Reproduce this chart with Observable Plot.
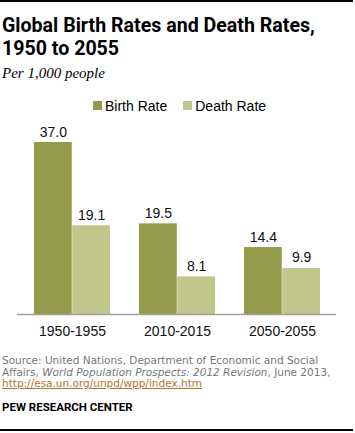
<!DOCTYPE html>
<html>
<head>
<meta charset="utf-8">
<script src="https://cdn.jsdelivr.net/npm/d3@7"></script>
<script src="https://cdn.jsdelivr.net/npm/@observablehq/plot@0.6"></script>
<style>
  html, body { margin: 0; padding: 0; background: #fff; }
  #wrap { position: relative; width: 355px; height: 433px; overflow: hidden; }
  .rule { position: absolute; left: 0; width: 353px; height: 2px; background: #000; }
  #title { position: absolute; left: 2px; top: 14px; font-family: Roboto, sans-serif; font-weight: 700; font-size: 19.6px; line-height: 23px; color: #000; white-space: nowrap; }
  #subtitle { position: absolute; left: 2px; top: 65px; font-family: "Liberation Serif", serif; font-style: italic; font-size: 15px; line-height: 16px; color: #000; }
  #legend { position: absolute; left: 93px; top: 98px; height: 15px; display: flex; align-items: center; font-family: "Liberation Sans", Arial, sans-serif; font-size: 14px; color: #000; }
  #legend .sw { width: 9px; height: 9px; margin-right: 3px; }
  #legend .item { display: flex; align-items: center; margin-right: 16px; }
  #chart { position: absolute; left: 0; top: 120px; }
  #source { position: absolute; left: 2px; top: 355px; font-family: "DejaVu Sans", sans-serif; font-size: 10.5px; line-height: 11.5px; color: #777; white-space: nowrap; }
  #source a { color: #b5732d; text-decoration: underline; }
  #pew { position: absolute; left: 2px; top: 401px; font-family: Roboto, sans-serif; font-weight: 700; font-size: 11.5px; line-height: 12px; color: #000; }
</style>
</head>
<body>
<div id="wrap">
  <div class="rule" style="top:0px"></div>
  <div id="title">Global Birth Rates and Death Rates,<br>1950 to 2055</div>
  <div id="subtitle">Per 1,000 people</div>
  <div id="legend"></div>
  <div id="chart"></div>
  <div id="source">Source: United Nations, Department of Economic and Social<br>Affairs, <i>World Population Prospects: 2012 Revision</i>, June 2013,<br><a>http://esa.un.org/unpd/wpp/index.htm</a></div>
  <div id="pew">PEW RESEARCH CENTER</div>
  <div class="rule" style="top:429px; height:2px"></div>
</div>
<script>
const periods = ["1950-1955", "2010-2015", "2050-2055"];
const birthRate = [37.0, 19.5, 14.4];
const deathRate = [19.1, 8.1, 9.9];
const seriesNames = ["Birth Rate", "Death Rate"];
const seriesColors = ["#949b4a", "#c1c78b"];

const birthRows = periods.map((p, i) => ({period: p, series: seriesNames[0], value: birthRate[i]}));
const deathRows = periods.map((p, i) => ({period: p, series: seriesNames[1], value: deathRate[i]}));

// legend
const legend = document.getElementById("legend");
seriesNames.forEach((s, i) => {
  const item = document.createElement("div");
  item.className = "item";
  const sw = document.createElement("div");
  sw.className = "sw";
  sw.style.background = seriesColors[i];
  const t = document.createElement("span");
  t.textContent = s;
  item.appendChild(sw); item.appendChild(t);
  legend.appendChild(item);
});

const W = 355, H = 225, ML = 17, MR = 19, MT = 22, MB = 31;
const xOpts = {type: "band", domain: periods, paddingInner: 0.277, paddingOuter: 0.146};
const xs = Plot.scale({x: {...xOpts, range: [ML, W - MR]}});
const bw = xs.bandwidth;
const half = bw / 2;

const chart = Plot.plot({
  width: W, height: H,
  marginLeft: ML, marginRight: MR, marginTop: MT, marginBottom: MB,
  style: {fontFamily: "'Liberation Sans', Arial, sans-serif", fontSize: "14px", color: "#111", background: "transparent"},
  x: {...xOpts, axis: null},
  y: {domain: [0, 37], axis: null},
  marks: [
    Plot.barY(birthRows, {x: "period", y: "value", fill: seriesColors[0], insetRight: half}),
    Plot.barY(deathRows, {x: "period", y: "value", fill: seriesColors[1], insetLeft: half}),
    Plot.ruleY([0], {stroke: "#9f9f9f", strokeWidth: 1.5}),
    Plot.text(birthRows, {x: "period", y: "value", text: d => d.value.toFixed(1), dx: -bw / 4, dy: -6, lineAnchor: "bottom", fontSize: 14, fill: "#111"}),
    Plot.text(deathRows, {x: "period", y: "value", text: d => d.value.toFixed(1), dx: bw / 4, dy: -6, lineAnchor: "bottom", fontSize: 14, fill: "#111"}),
    Plot.axisX({tickSize: 0, tickPadding: 12, label: null, fontSize: 14, fill: "#111"})
  ]
});
document.getElementById("chart").appendChild(chart);
</script>
</body>
</html>
